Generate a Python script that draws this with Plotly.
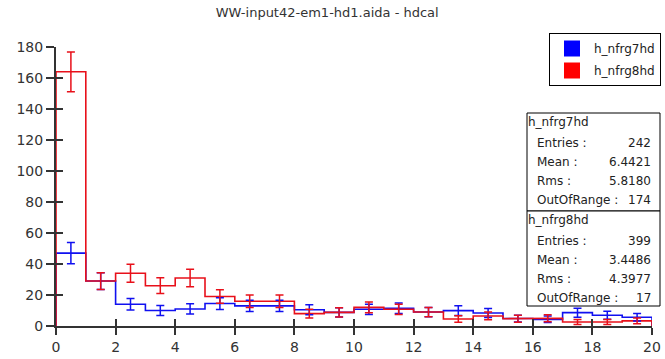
import plotly.graph_objects as go

# ---------------- data ----------------
bin_edges = list(range(0, 21))
blue_name = "h_nfrg7hd"
red_name = "h_nfrg8hd"
blue_vals = [47, 29, 14, 10, 11, 14.5, 13, 13, 10.5, 8.8, 10.8, 11.4, 9, 9.9, 8.4, 4.8, 4.3, 8.6, 6.9, 5.6]
blue_errs = [6.9, 5.4, 3.7, 3.2, 3.3, 3.8, 3.6, 3.6, 3.2, 3.0, 3.3, 3.4, 3.0, 3.1, 2.9, 2.2, 2.1, 2.9, 2.6, 2.4]
red_vals = [164, 29, 34, 26, 31, 19, 16, 16, 8, 8.8, 12, 10.8, 9, 4.5, 6.5, 4.7, 5, 2.6, 2.6, 3.3]
red_errs = [12.8, 5.4, 5.8, 5.1, 5.6, 4.4, 4.0, 4.0, 2.8, 3.0, 3.5, 3.3, 3.0, 2.1, 2.5, 2.2, 2.2, 1.6, 1.6, 1.8]
x_ticks = [0, 2, 4, 6, 8, 10, 12, 14, 16, 18, 20]
y_ticks = [0, 20, 40, 60, 80, 100, 120, 140, 160, 180]
title_text = "WW-input42-em1-hd1.aida - hdcal"
stats = [
    (blue_name, [("Entries :", "242"), ("Mean :", "6.4421"), ("Rms :", "5.8180"), ("OutOfRange :", "174")]),
    (red_name, [("Entries :", "399"), ("Mean :", "3.4486"), ("Rms :", "4.3977"), ("OutOfRange :", "17")]),
]

# ---------------- layout constants ----------------
W, H = 665, 359
L, R, T, B = 56, 13, 47, 33
PW, PH = W - L - R, H - T - B
BLUE = "#1010f0"
RED = "#e8101a"
FONT = "DejaVu Sans, Verdana, sans-serif"
TXT = "#222"


def px_x(px):
    return (px - L) / PW


def px_y(py):
    return (H - B - py) / PH


def step_xy(vals):
    xs, ys = [bin_edges[0]], [0]
    for i, v in enumerate(vals):
        xs += [bin_edges[i], bin_edges[i + 1]]
        ys += [v, v]
    xs.append(bin_edges[-1])
    ys.append(0)
    return xs, ys


centers = [(bin_edges[i] + bin_edges[i + 1]) / 2 for i in range(len(bin_edges) - 1)]

fig = go.Figure()
for vals, col in [(blue_vals, BLUE), (red_vals, RED)]:
    xs, ys = step_xy(vals)
    fig.add_trace(go.Scatter(x=xs, y=ys, mode="lines", line=dict(color=col, width=1.6),
                             showlegend=False, hoverinfo="skip"))
for vals, errs, col in [(blue_vals, blue_errs, BLUE), (red_vals, red_errs, RED)]:
    fig.add_trace(go.Scatter(x=centers, y=vals, mode="markers", marker=dict(size=1, color=col, opacity=0),
                             error_y=dict(type="data", array=errs, visible=True, color=col, thickness=1.5, width=4),
                             showlegend=False))
# legend entries (square swatches)
fig.add_trace(go.Scatter(x=[None], y=[None], mode="markers", name=blue_name, legendgroup="a",
                         marker=dict(symbol="square", size=16, color="#0000ff")))
fig.add_trace(go.Scatter(x=[None], y=[None], mode="markers", name=red_name, legendgroup="b",
                         marker=dict(symbol="square", size=16, color="#ff0000")))
# dummy trace for overlay axes (inside ticks)
fig.add_trace(go.Scatter(x=[None], y=[None], xaxis="x2", yaxis="y2", showlegend=False))

axis_common = dict(showgrid=False, zeroline=False)
fig.update_layout(
    width=W, height=H,
    margin=dict(l=L, r=R, t=T, b=B, autoexpand=False),
    paper_bgcolor="white", plot_bgcolor="white",
    font=dict(family=FONT, color="#333"),
    title=dict(text=title_text, x=0.492, xref="container", xanchor="center",
               y=1 - 12 / H, yanchor="middle", font=dict(size=13, color="#333", family=FONT)),
    xaxis=dict(range=[0, 20], tickvals=x_ticks, ticks="outside", ticklen=7, tickwidth=1.5, tickcolor="#333",
               showline=True, linewidth=2, linecolor="#333", tickfont=dict(size=14, color="#333"), **axis_common),
    yaxis=dict(range=[0, 180], tickvals=y_ticks, ticks="outside", ticklen=8, tickwidth=1.5, tickcolor="#333",
               showline=True, linewidth=2, linecolor="#333", tickfont=dict(size=14, color="#333"), **axis_common),
    xaxis2=dict(range=[0, 20], overlaying="x", anchor="y2", tickvals=x_ticks, ticks="inside", ticklen=7,
                tickwidth=1.5, tickcolor="#333", showticklabels=False, showline=False, **axis_common),
    yaxis2=dict(range=[0, 180], overlaying="y", anchor="x2", tickvals=y_ticks, ticks="inside", ticklen=7,
                tickwidth=1.5, tickcolor="#333", showticklabels=False, showline=False, **axis_common),
    legend=dict(x=px_x(661), xanchor="right", y=px_y(33), yanchor="top", bgcolor="white",
                bordercolor="black", borderwidth=1, font=dict(size=12, color=TXT, family=FONT),
                itemwidth=34, tracegroupgap=3),
    showlegend=True,
)

# stats boxes
box_left, box_right = 527, 660
box_tops = [113, 211]
box_bottoms = [211, 306]
for k, (hname, rows) in enumerate(stats):
    top, bot = box_tops[k], box_bottoms[k]
    fig.add_shape(type="rect", xref="paper", yref="paper", x0=px_x(box_left), x1=px_x(box_right),
                  y0=px_y(bot), y1=px_y(top), line=dict(color="black", width=1), fillcolor="white", layer="above")
    fig.add_annotation(xref="paper", yref="paper", x=px_x(box_left - 1), y=px_y(top + 9), text=hname,
                       showarrow=False, xanchor="left", yanchor="middle", font=dict(size=12, color=TXT, family=FONT))
    for j, (lab, val) in enumerate(rows):
        yc = top + 30 + j * 19
        fig.add_annotation(xref="paper", yref="paper", x=px_x(box_left + 8), y=px_y(yc), text=lab,
                           showarrow=False, xanchor="left", yanchor="middle", font=dict(size=12, color=TXT, family=FONT))
        fig.add_annotation(xref="paper", yref="paper", x=px_x(653), y=px_y(yc), text=val,
                           showarrow=False, xanchor="right", yanchor="middle", font=dict(size=12, color=TXT, family=FONT))

fig.write_html("out.html")
